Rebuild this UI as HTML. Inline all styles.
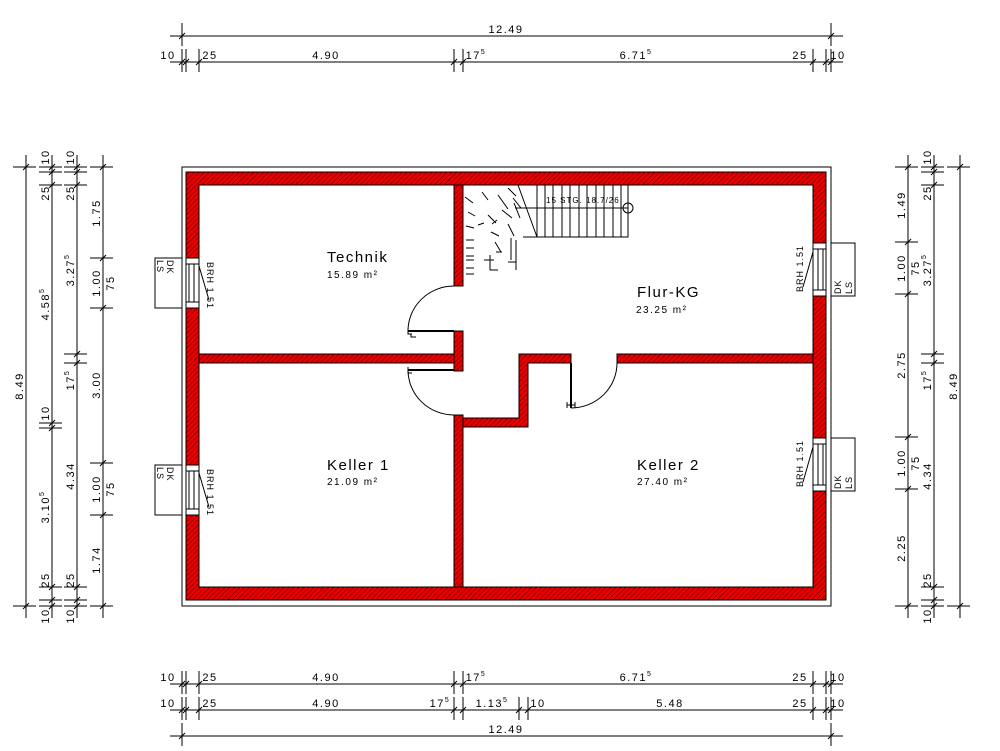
<!DOCTYPE html>
<html><head><meta charset="utf-8"><style>
html,body{margin:0;padding:0;background:#fff;}
svg{display:block;font-family:"Liberation Sans",sans-serif;}
</style></head><body>
<svg id="s" width="1000" height="751" viewBox="0 0 1000 751" xmlns="http://www.w3.org/2000/svg">
<defs>
<pattern id="h" width="3.5" height="3.5" patternUnits="userSpaceOnUse" patternTransform="rotate(45)">
<rect width="3.5" height="3.5" fill="#e80000"/>
<line x1="0" y1="0" x2="0" y2="3.5" stroke="#300" stroke-width="0.8"/>
</pattern>
</defs>
<rect x="182" y="167" width="649" height="439" fill="none" stroke="#000" stroke-width="1"/>
<g fill="url(#h)" stroke="#000" stroke-width="1">
<path fill-rule="evenodd" d="M186 172H826V600H186Z M199 185H813V587H199Z"/>
<rect x="454" y="185" width="9" height="101"/>
<rect x="454" y="331" width="9" height="40"/>
<rect x="454" y="415" width="9" height="172"/>
<rect x="199" y="354" width="255" height="9"/>
<path d="M463 418H519V354H571V363H528V427H463Z"/>
<rect x="617" y="354" width="196" height="9"/>
</g>
<g fill="#fff" stroke="#000" stroke-width="1">
<rect x="186" y="258" width="13" height="50"/>
<rect x="186" y="465" width="13" height="50"/>
<rect x="813" y="243" width="13" height="53"/>
<rect x="813" y="438" width="13" height="53"/>
<rect x="155" y="258" width="27" height="50"/>
<rect x="155" y="465" width="27" height="50"/>
<rect x="831" y="243" width="24" height="53"/>
<rect x="831" y="438" width="24" height="53"/>
</g>
<g stroke="#000" stroke-width="1" fill="none">
<path d="M189 264V302M194 264V302M186 264H199M186 302H199M199 266L209 300"/>
<path d="M189 471V509M194 471V509M186 471H199M186 509H199M199 473L209 507"/>
<path d="M823 249V290M818 249V290M813 249H826M813 290H826M813 252L803 287"/>
<path d="M823 444V485M818 444V485M813 444H826M813 485H826M813 447L803 482"/>
<line x1="182" y1="258" x2="182" y2="308"/><line x1="182" y1="465" x2="182" y2="515"/>
<line x1="831" y1="243" x2="831" y2="296"/><line x1="831" y1="438" x2="831" y2="491"/>
<path d="M408 331A46 45 0 0 1 454 286"/>
<path d="M408 370A46 45 0 0 0 454 415"/>
<path d="M571 408A46 45 0 0 0 617 363"/>
</g>
<g stroke="#000" stroke-width="2">
<line x1="408" y1="331" x2="454" y2="331"/>
<line x1="408" y1="370" x2="454" y2="370"/>
<line x1="571" y1="363" x2="571" y2="408"/>
</g>
<g stroke="#000" stroke-width="1" fill="none">
<path d="M408 328v6h4M411 334v3h5M408 367v6h4M567 405h8M567 402v6M575 402v6"/>
<rect x="537" y="185" width="91" height="52"/>
<line x1="515" y1="208" x2="628" y2="208"/>
<path d="M545 185V237M553 185V237M562 185V237M570 185V237M579 185V237M587 185V237M596 185V237M604 185V237M613 185V237M621 185V237"/>
<path d="M518 185L537 237M523 237H537"/>
<circle cx="628" cy="208" r="5"/>
<path d="M465 197l8 6M468 212l7 4M466 226l8 2M466 240h8M466 248h8M466 256h8M466 268h8M466 274h8M466 260h8M482 192l6 8M488 215l8 8M492 224l5 -4M491 232l8 4M495 242l6 10M496 252h6M484 260h10M490 255v15M490 270h8M508 188l8 8M513 198l8 10M502 210l10 8M514 203l6 15M508 224l6 12M511 238v22M508 262h8M516 240v30M498 195l10 14M478 225l6 -2"/>
</g>
<g font-size="8" fill="#000">
<text x="546" y="203" letter-spacing="1">15 STG. 18.7/26</text>
</g>
<g fill="#000">
<text x="327" y="262" font-size="15" letter-spacing="1.5">Technik</text>
<text x="327" y="278" font-size="10" letter-spacing="1.5">15.89 m²</text>
<text x="637" y="297" font-size="15" letter-spacing="1.5">Flur-KG</text>
<text x="636" y="313" font-size="10" letter-spacing="1.5">23.25 m²</text>
<text x="327" y="470" font-size="15" letter-spacing="1.5">Keller 1</text>
<text x="327" y="485" font-size="10" letter-spacing="1.5">21.09 m²</text>
<text x="637" y="470" font-size="15" letter-spacing="1.5">Keller 2</text>
<text x="637" y="485" font-size="10" letter-spacing="1.5">27.40 m²</text>
</g>
<g font-size="9" fill="#000" letter-spacing="1">
<text transform="translate(157,260) rotate(90)">LS</text>
<text transform="translate(167,260) rotate(90)">DK</text>
<text transform="translate(157,467) rotate(90)">LS</text>
<text transform="translate(167,467) rotate(90)">DK</text>
<text transform="translate(841,294) rotate(-90)">DK</text>
<text transform="translate(852,294) rotate(-90)">LS</text>
<text transform="translate(841,489) rotate(-90)">DK</text>
<text transform="translate(852,489) rotate(-90)">LS</text>
<text transform="translate(207,262) rotate(90)">BRH 1.51</text>
<text transform="translate(207,469) rotate(90)">BRH 1.51</text>
<text transform="translate(803,292) rotate(-90)">BRH 1.51</text>
<text transform="translate(803,487) rotate(-90)">BRH 1.51</text>
</g>
<g id="dims" stroke="#000" stroke-width="1" fill="#000" font-size="11" letter-spacing="1.5"></g>
</svg>
<script>
var g=document.getElementById('dims'),NS='http://www.w3.org/2000/svg';
function el(t,a,txt){var e=document.createElementNS(NS,t);for(var k in a)e.setAttribute(k,a[k]);if(txt!==undefined){e.innerHTML=txt;}g.appendChild(e);return e;}
function lab(s){var p=s.split('^');if(p.length==1)return s;return p[0]+'<tspan font-size="7" dy="-5">'+p[1]+'</tspan>';}
function hdim(y,xs,labels){
 el('line',{x1:xs[0]-12,y1:y,x2:xs[xs.length-1]+12,y2:y});
 xs.forEach(function(x){el('line',{x1:x,y1:y-13,x2:x,y2:y+10});el('line',{x1:x-3,y1:y+3,x2:x+3,y2:y-3});});
 labels.forEach(function(l){el('text',{x:l[0],y:y-3,'text-anchor':'middle',stroke:'none'},lab(l[1]));});
}
function vdim(x,ys,labels,side){
 el('line',{x1:x,y1:ys[0]-12,x2:x,y2:ys[ys.length-1]+12});
 ys.forEach(function(y){el('line',{x1:x-13,y1:y,x2:x+10,y2:y});el('line',{x1:x-3,y1:y+3,x2:x+3,y2:y-3});});
 labels.forEach(function(l){var xx=l[2]?x+11:x-3;el('text',{transform:'translate('+xx+','+l[0]+') rotate(-90)','text-anchor':'middle',stroke:'none'},lab(l[1]));});
}
hdim(36,[182,831],[[506,'12.49']]);
var r2=[[168,'10'],[210,'25'],[326,'4.90'],[476,'17^5'],[636,'6.71^5'],[800,'25'],[838,'10']];
hdim(62,[182,186,199,454,463,813,826,831],r2);
hdim(684,[182,186,199,454,463,813,826,831],r2);
hdim(710,[182,186,199,454,463,519,528,813,826,831],[[168,'10'],[210,'25'],[326,'4.90'],[440,'17^5'],[492,'1.13^5'],[538,'10'],[670,'5.48'],[800,'25'],[838,'10']]);
hdim(736,[182,831],[[506,'12.49']]);
vdim(26,[167,606],[[386,'8.49']]);
vdim(52,[167,172,185,423,428,587,600,606],[[157,'10'],[193,'25'],[304,'4.58^5'],[413,'10'],[507,'3.10^5'],[580,'25'],[616,'10']]);
vdim(77,[167,172,185,354,363,587,600,606],[[157,'10'],[193,'25'],[270,'3.27^5'],[380,'17^5'],[476,'4.34'],[580,'25'],[616,'10']]);
vdim(103,[167,258,308,463,515,606],[[213,'1.75'],[283,'1.00'],[283,'75',1],[385,'3.00'],[489,'1.00'],[489,'75',1],[560,'1.74']]);
vdim(908,[167,242,294,437,489,606],[[205,'1.49'],[268,'1.00'],[268,'75',1],[365,'2.75'],[463,'1.00'],[463,'75',1],[548,'2.25']]);
vdim(934,[167,172,185,354,363,587,600,606],[[157,'10'],[193,'25'],[270,'3.27^5'],[380,'17^5'],[476,'4.34'],[580,'25'],[616,'10']]);
vdim(960,[167,606],[[386,'8.49']]);
</script>
</body></html>
